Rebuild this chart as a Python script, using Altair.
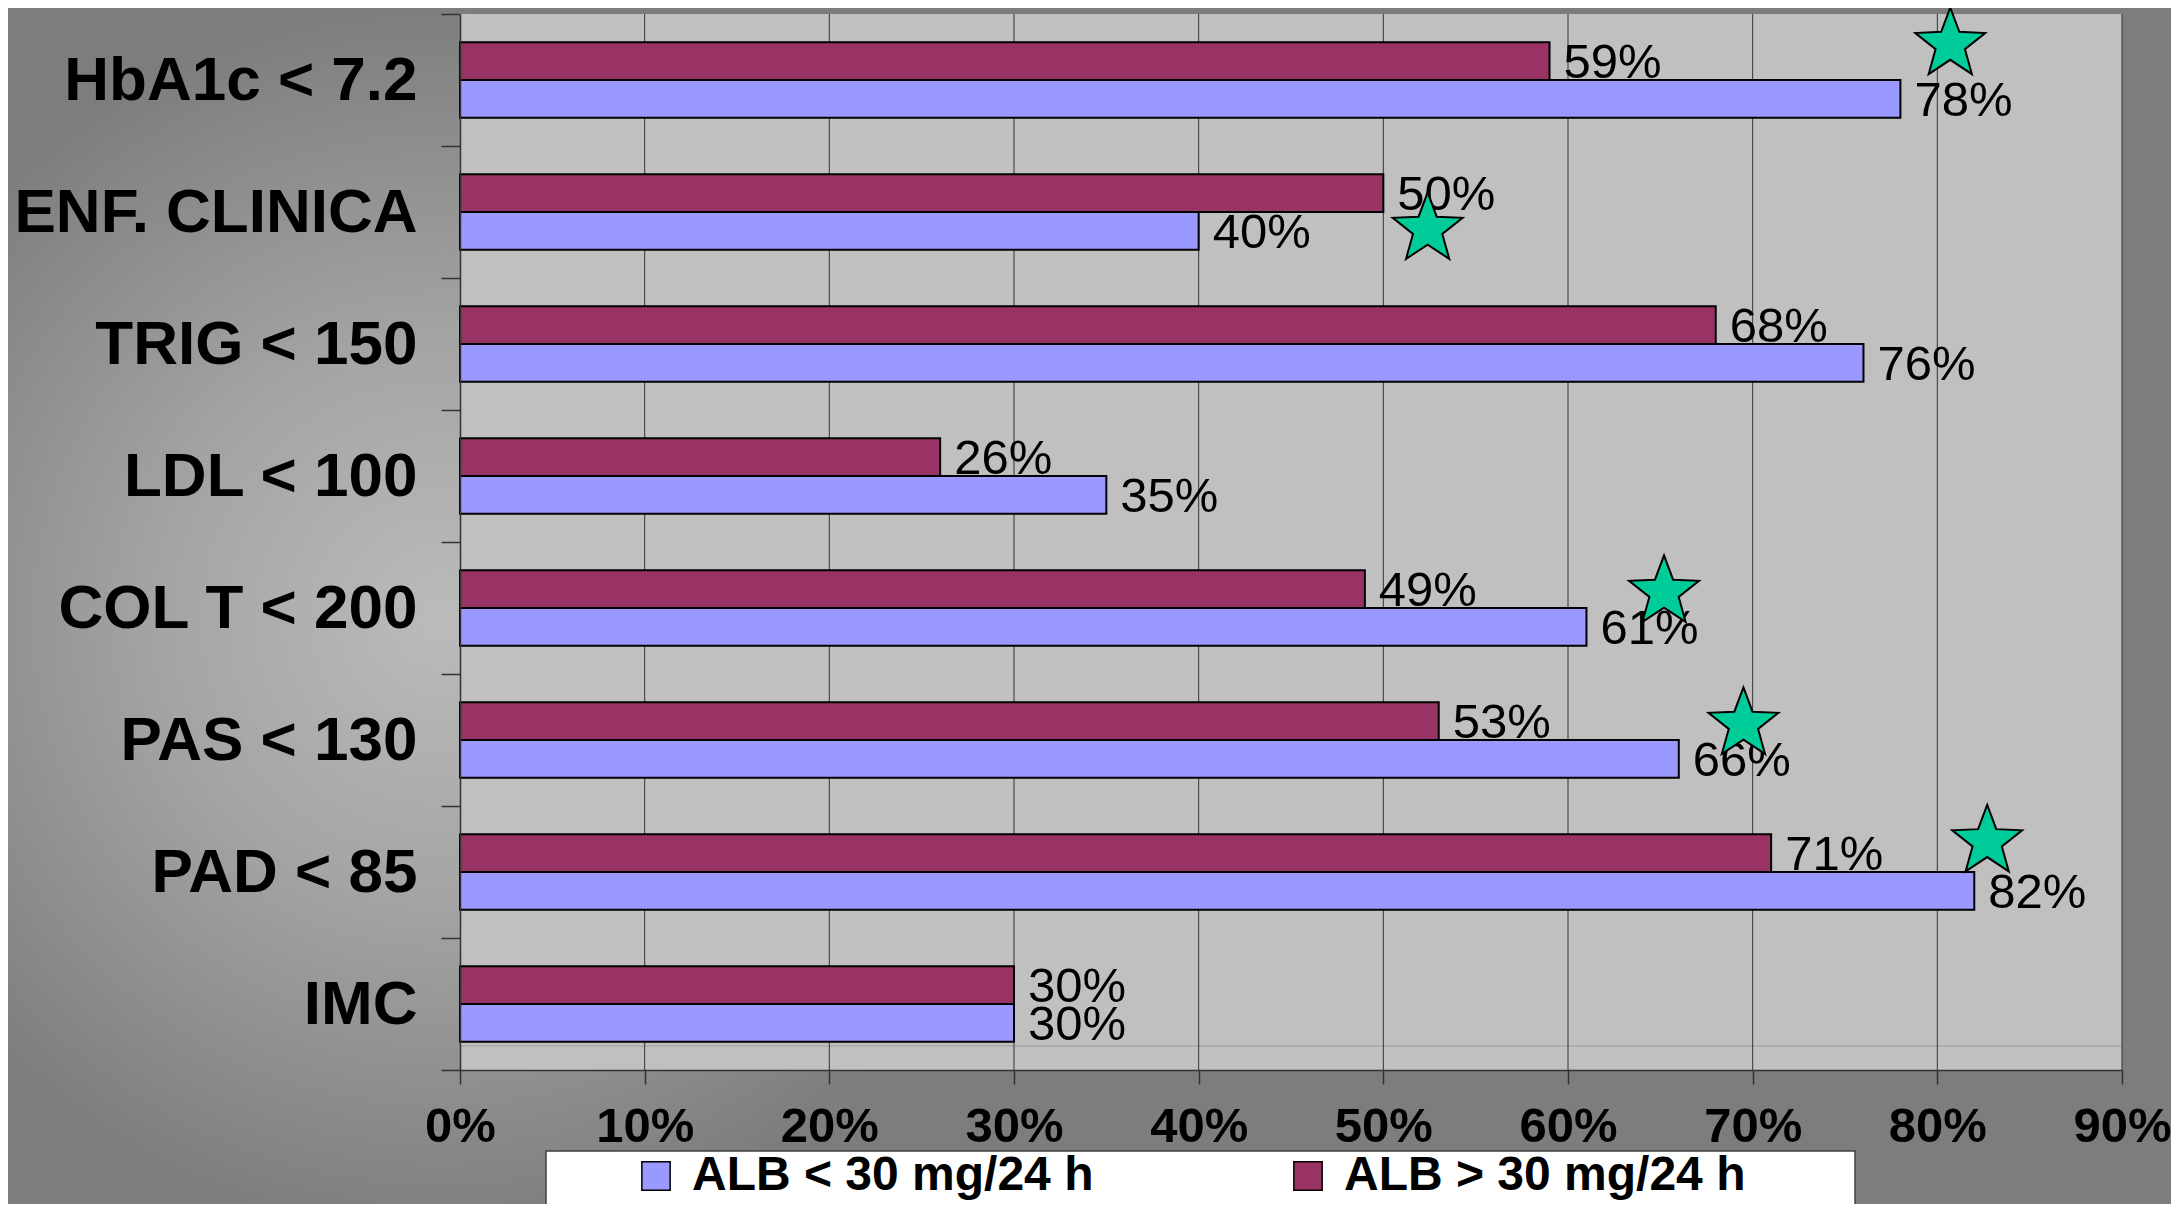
import altair as alt
import pandas as pd

# ---------------- data ----------------
categories = ["HbA1c < 7.2", "ENF. CLINICA", "TRIG < 150", "LDL < 100",
              "COL T < 200", "PAS < 130", "PAD < 85", "IMC"]
alb_low = [0.78, 0.40, 0.76, 0.35, 0.61, 0.66, 0.82, 0.30]    # ALB < 30 mg/24 h
alb_high = [0.59, 0.50, 0.68, 0.26, 0.49, 0.53, 0.71, 0.30]   # ALB > 30 mg/24 h
series_names = ["ALB < 30 mg/24 h", "ALB > 30 mg/24 h"]
series_colors = ["#9999FF", "#993366"]
x_ticks = [0.0, 0.1, 0.2, 0.3, 0.4, 0.5, 0.6, 0.7, 0.8, 0.9]

# significance stars (x value, row position in category units from top)
star_x = [0.807, 0.524, 0.652, 0.695, 0.827]
star_row = [0.23, 1.63, 4.38, 5.38, 6.27]

# ---------------- tables ----------------
rows = []
for c, lo, hi in zip(categories, alb_low, alb_high):
    rows.append({"cat": c, "series": series_names[0], "value": lo})
    rows.append({"cat": c, "series": series_names[1], "value": hi})
bars_df = pd.DataFrame(rows)
grid_df = pd.DataFrame({"t": x_ticks[1:]})
stars_df = pd.DataFrame({"sx": star_x, "sy": star_row})
one = pd.DataFrame({"a": [0]})

W, H = 1662, 1056
FONT = "Liberation Sans"

xscale = alt.Scale(domain=[0, 0.9], nice=False, zero=True)
x_axis = alt.Axis(format=".0%", values=x_ticks, labelFontSize=49, labelFont=FONT,
                  labelFontWeight="bold", labelColor="black", tickSize=14,
                  tickColor="#333333", tickWidth=1.5, domainColor="#333333",
                  domainWidth=1.5, labelPadding=18, labelFlush=False,
                  labelOverlap=False, grid=False, zindex=1, title=None)

# ---------------- decoration ----------------
base_bg = alt.Chart(one).mark_rect(fill="#7D7D7D").encode(
    x=alt.value(-470), x2=alt.value(W + 80), y=alt.value(-20), y2=alt.value(H + 180))

glow = alt.Chart(one).mark_rect(
    fill=alt.Gradient(
        gradient="radial",
        stops=[alt.GradientStop(color="#BBBBBB", offset=0),
               alt.GradientStop(color="#A4A4A4", offset=0.45),
               alt.GradientStop(color="#7D7D7D", offset=1)],
        x1=0.5, y1=0.5, r1=0, x2=0.5, y2=0.5, r2=0.5)
).encode(x=alt.value(-640), x2=alt.value(600), y=alt.value(-14), y2=alt.value(1226))

plot_bg = alt.Chart(one).mark_rect(fill="#C0C0C0").encode(
    x=alt.value(0), x2=alt.value(W), y=alt.value(0), y2=alt.value(H))

faint = alt.Chart(one).mark_rule(color="#A9A9A9", strokeWidth=1.5).encode(
    x=alt.value(0), x2=alt.value(W), y=alt.value(1032))

legend_box = alt.Chart(one).mark_rect(fill="white", stroke="#404040", strokeWidth=1.5).encode(
    x=alt.value(86), x2=alt.value(1395), y=alt.value(1137), y2=alt.value(1230))

grid = alt.Chart(grid_df).mark_rule(color="#333333", strokeWidth=1).encode(
    x=alt.X("t:Q", scale=xscale, axis=x_axis), y=alt.value(0), y2=alt.value(H))

# ---------------- bars ----------------
y_enc = alt.Y("cat:N", sort=categories, title=None,
              scale=alt.Scale(paddingInner=0, paddingOuter=0),
              axis=alt.Axis(labelFontSize=62, labelFont=FONT, labelFontWeight="bold",
                            labelColor="black", tickSize=19, tickColor="#333333",
                            tickWidth=1.5, tickBand="extent", labelPadding=24,
                            domainColor="#333333", domainWidth=1.5, labelLimit=600,
                            grid=False, zindex=1))
yoff = alt.YOffset("series:N", sort=[series_names[1], series_names[0]],
                   scale=alt.Scale(paddingInner=0, paddingOuter=0.75))

bars = alt.Chart(bars_df).mark_bar(stroke="black", strokeWidth=2).encode(
    y=y_enc,
    x=alt.X("value:Q", scale=xscale, axis=x_axis),
    yOffset=yoff,
    color=alt.Color("series:N",
                    scale=alt.Scale(domain=series_names, range=series_colors),
                    legend=alt.Legend(orient="none", legendX=172, legendY=1138,
                                      direction="horizontal", title=None,
                                      symbolType="square", symbolSize=800,
                                      symbolStrokeColor="black", symbolStrokeWidth=1.5,
                                      symbolOpacity=1,
                                      labelFontSize=48, labelFont=FONT,
                                      labelFontWeight="bold", labelColor="black",
                                      labelOffset=12, columnPadding=190, padding=0,
                                      labelLimit=1000, zindex=1)),
)

labels = alt.Chart(bars_df).mark_text(align="left", baseline="middle", dx=14, dy=2,
                                      fontSize=49, font=FONT, color="black").encode(
    y=alt.Y("cat:N", sort=categories, axis=None,
            scale=alt.Scale(paddingInner=0, paddingOuter=0)),
    x=alt.X("value:Q", scale=xscale, axis=x_axis),
    yOffset=yoff,
    text=alt.Text("value:Q", format=".0%"),
)

star_path = ("M0,-1L0.247,-0.34L0.951,-0.309L0.399,0.13L0.588,0.809L0,0.42"
             "L-0.588,0.809L-0.399,0.13L-0.951,-0.309L-0.247,-0.34Z")
stars = alt.Chart(stars_df).mark_point(shape=star_path, size=5400, filled=True,
                                       fill="#00CC99", stroke="black", strokeWidth=2,
                                       opacity=1).encode(
    x=alt.X("sx:Q", scale=xscale, axis=x_axis),
    y=alt.Y("sy:Q", scale=alt.Scale(domain=[0, 8], reverse=True, nice=False, zero=False),
            axis=None),
)

chart = alt.layer(base_bg, glow, plot_bg, faint, legend_box, grid, bars, labels, stars).resolve_scale(
    y="independent"
).properties(
    width=W, height=H,
    padding={"left": 452, "top": 6, "right": 49, "bottom": 134},
    autosize=alt.AutoSizeParams(type="none"),
    background="#7D7D7D",
).configure_view(stroke=None)

chart.save("out.html", embed_options={"renderer": "svg", "actions": False})
